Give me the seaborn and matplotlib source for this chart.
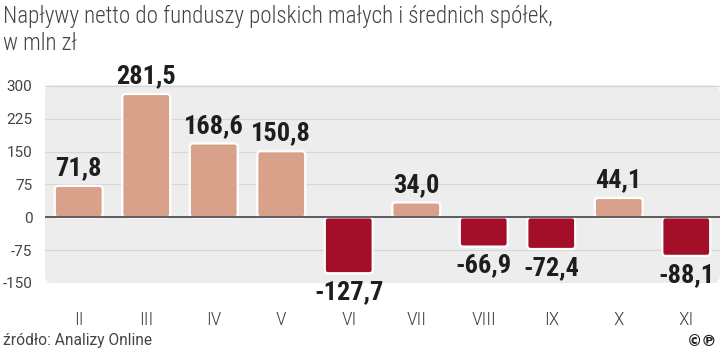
import matplotlib
matplotlib.use("Agg")
import matplotlib.pyplot as plt
import seaborn as sns
import pandas as pd
from matplotlib.patches import FancyBboxPatch

# data
months = ["II", "III", "IV", "V", "VI", "VII", "VIII", "IX", "X", "XI"]
values = [71.8, 281.5, 168.6, 150.8, -127.7, 34.0, -66.9, -72.4, 44.1, -88.1]
yticks = [-150, -75, 0, 75, 150, 225, 300]

pos_col = "#d9a08a"
neg_col = "#a30f29"
txt_col = "#1e1e1e"
grey_txt = "#444444"

df = pd.DataFrame({"month": months, "value": values})
df["sign"] = ["pos" if v >= 0 else "neg" for v in values]

sns.set_theme(style="white")
plt.rcParams["font.family"] = ["Roboto", "DejaVu Sans"]
cond = ["Roboto Condensed", "DejaVu Sans"]

W, H = 720, 351
fig = plt.figure(figsize=(W / 100, H / 100), dpi=100)
ax_l, ax_b, ax_w, ax_h = 45, 68, 675, 198   # pixels
ax = fig.add_axes([ax_l / W, ax_b / H, ax_w / W, ax_h / H])
ax.set_facecolor("none")

# rounded grey panel
r = 8
bg = FancyBboxPatch((0, 0), 1, 1, boxstyle=f"round,pad=0,rounding_size={r / ax_w}",
                    transform=ax.transAxes, facecolor="#ededee", edgecolor="none",
                    zorder=0, clip_on=False, mutation_aspect=ax_w / ax_h)
ax.add_patch(bg)

sns.barplot(data=df, x="month", y="value", hue="sign", order=months,
            palette={"pos": pos_col, "neg": neg_col}, legend=False,
            width=0.71, saturation=1, ax=ax)

ax.set_ylim(-149, 302)
ax.set_xlim(-0.5, 9.5)

# swap the plain bars for rounded ones
px_x = ax_w / 10.0
px_y = ax_h / (302 + 149)
for p in list(ax.patches):
    if p is bg:
        continue
    x0, y0 = p.get_x(), p.get_y()
    w, h = p.get_width(), p.get_height()
    if h < 0:
        y0, h = y0 + h, -h
    rb = FancyBboxPatch((x0, y0), w, h,
                        boxstyle=f"round,pad=0,rounding_size={3.5 / px_x}",
                        mutation_aspect=px_x / px_y,
                        facecolor=p.get_facecolor(), edgecolor="white",
                        linewidth=1.6, zorder=3)
    p.set_visible(False)
    ax.add_patch(rb)

for y in yticks:
    if y != 0:
        ax.axhline(y, color="#d6d6d8", lw=0.9, zorder=1)
ax.axhline(0, color="#333333", lw=1.1, zorder=4)

ax.set_yticks(yticks)
ax.set_yticklabels([str(t) for t in yticks], fontsize=11, color=grey_txt)
ax.set_xticks(range(len(months)))
ax.set_xticklabels(months, fontsize=14, color=grey_txt, family=cond, fontweight="light")
ax.tick_params(axis="y", length=0, pad=9)
ax.tick_params(axis="x", length=0, pad=20)
ax.set_xlabel("")
ax.set_ylabel("")
for s in ax.spines.values():
    s.set_visible(False)

for i, v in enumerate(values):
    lab = f"{v:.1f}".replace(".", ",")
    if v >= 0:
        ax.annotate(lab, (i, v), xytext=(0, 4), textcoords="offset points",
                    ha="center", va="bottom", fontsize=19, fontweight="bold",
                    family=cond, color=txt_col, zorder=5)
    else:
        ax.annotate(lab, (i, v), xytext=(0, -5), textcoords="offset points",
                    ha="center", va="top", fontsize=19, fontweight="bold",
                    family=cond, color=txt_col, zorder=5, annotation_clip=False)

fig.text(0.004, 1 - 23 / H, "Napływy netto do funduszy polskich małych i średnich spółek,",
         fontsize=16.6, color=grey_txt, ha="left", va="baseline",
         family=cond, fontweight="light")
fig.text(0.004, 1 - 50 / H, "w mln zł", fontsize=16.6, color=grey_txt, ha="left",
         va="baseline", family=cond, fontweight="light")
fig.text(0.004, 1 - 345 / H, "źródło: Analizy Online", fontsize=11.2, color=grey_txt,
         ha="left", va="baseline")
fig.text(0.997, 1 - 346 / H, "©℗", fontsize=11, color="#222222", ha="right",
         va="baseline", family=["DejaVu Sans"], fontweight="bold")

fig.savefig("out.png", dpi=100)
